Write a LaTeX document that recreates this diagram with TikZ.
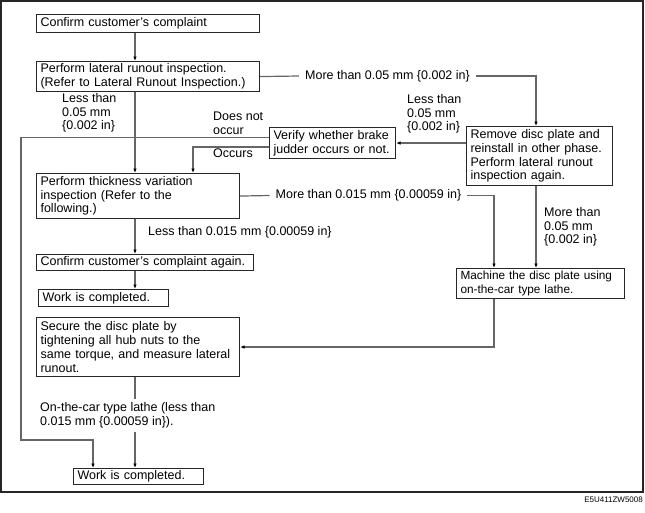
\documentclass[tikz,border=0pt]{standalone}
\usepackage{fontspec}
\setmainfont{Liberation Sans}
\usetikzlibrary{arrows.meta}
\newcommand{\boxfont}{\fontsize{12.5}{13.7}\selectfont\hyphenpenalty=10000}
\newcommand{\tightfont}{\fontsize{11.8}{13.7}\selectfont\hyphenpenalty=10000}
\newcommand{\codefont}{\fontsize{8}{9}\selectfont}

\begin{document}
\begin{tikzpicture}[x=1pt,y=-1pt,
	procbox/.style={draw=black!85,line width=1.1pt,anchor=north west,align=left,
		inner xsep=4pt,inner ysep=1pt,font=\boxfont},
	note/.style={inner sep=0pt,align=left,anchor=west,font=\boxfont},
	inline/.style={inner xsep=6pt,inner ysep=0pt,font=\boxfont},
	link/.style={draw=black!60,line width=1.2pt},
	arrow/.style={link,-{Latex[length=4.5pt,width=3.5pt,color=black]}}]
	\useasboundingbox (0,0) rectangle (645,512);
	\draw[line width=1.1pt,black!85] (1,1) rectangle (643,492);
	\node[anchor=east,inner sep=0pt,font=\codefont] (code) at (643,500) {E5U411ZW5008};

	% columns of the connectors
	\coordinate (colA) at (135,0);
	\coordinate (colO) at (193,0);
	\coordinate (colD) at (93,0);
	\coordinate (colM) at (494,0);
	\coordinate (colR) at (536,0);
	\coordinate (bend) at (21,440);

	\node[procbox,text width=215pt,minimum height=18pt] (start) at (36,14) {Confirm customer's complaint};
	\node[procbox,text width=215pt,minimum height=30pt] (lateral) at (36,61) {Perform lateral runout inspection.\\(Refer to Lateral Runout Inspection.)};
	\node[procbox,text width=118pt,minimum height=31pt] (verify) at (269,127) {Verify whether brake\\judder occurs or not.};
	\node[procbox,text width=138pt,minimum height=59pt] (remove) at (466,126) {Remove disc plate and\\reinstall in other phase.\\Perform lateral runout\\inspection again.};
	\node[procbox,text width=195pt,minimum height=45pt] (thick) at (36,173) {Perform thickness variation\\inspection (Refer to the\\following.)};
	\node[procbox,text width=209pt,minimum height=16pt] (again) at (36,254) {Confirm customer's complaint again.};
	\node[procbox,text width=122pt,minimum height=17pt] (done1) at (38,289) {Work is completed.};
	\node[procbox,font=\tightfont,text width=160pt,minimum height=30pt] (machine) at (456,268) {\mbox{Machine the disc plate using}\\on-the-car type lathe.};
	\node[procbox,text width=195pt,minimum height=59pt] (secure) at (36,317) {Secure the disc plate by\\tightening all hub nuts to the\\same torque, and measure lateral\\runout.};
	\node[procbox,text width=122pt,minimum height=16pt] (done2) at (73,468) {Work is completed.};

	\node[inline] (moreA) at (387.5,76) {More than 0.05 mm \{0.002 in\}};
	\node[inline] (moreB) at (368.5,195.5) {More than 0.015 mm \{0.00059 in\}};
	\node[note] (lessA) at (62,113) {Less than\\0.05 mm\\\{0.002 in\}};
	\node[note] (lessB) at (407,114) {Less than\\0.05 mm\\\{0.002 in\}};
	\node[note] (notocc) at (213,123.5) {Does not\\occur};
	\node[note] (occurs) at (213,153) {Occurs};
	\node[note] (lessC) at (148,232) {Less than 0.015 mm \{0.00059 in\}};
	\node[note] (moreC) at (544,227) {More than\\0.05 mm\\\{0.002 in\}};
	\node[note,inner ysep=4pt] (lathe) at (40,415.5) {On-the-car type lathe (less than\\0.015 mm \{0.00059 in\}).};

	\draw[arrow] (start.south -| colA) -- (lateral.north -| colA);
	\draw[arrow] (lateral.south -| colA) -- (thick.north -| colA);
	\draw[arrow] (thick.south -| colA) -- (again.north -| colA);
	\draw[arrow] (again.south -| colA) -- (done1.north -| colA);
	\draw[link] (secure.south -| colA) -- (lathe.north -| colA);
	\draw[arrow] (lathe.south -| colA) -- (done2.north -| colA);

	\draw[link] (lateral.east) -- (moreA.west);
	\draw[arrow] (moreA.east) -| (colR |- remove.north);
	\draw[arrow] (remove.west |- verify.east) -- (verify.east);
	\draw[arrow] ([yshift=5.5pt]verify.west) -| (bend) -| (colD |- done2.north);
	\draw[arrow] ([yshift=-4pt]verify.west) -| (colO |- thick.north);

	\draw[link] (thick.east) -- (moreB.west);
	\draw[arrow] (moreB.east) -| (colM |- machine.north);
	\draw[arrow] (remove.south -| colR) -- (machine.north -| colR);
	\draw[arrow] (machine.south -| colM) |- (secure.east);
\end{tikzpicture}
\end{document}
